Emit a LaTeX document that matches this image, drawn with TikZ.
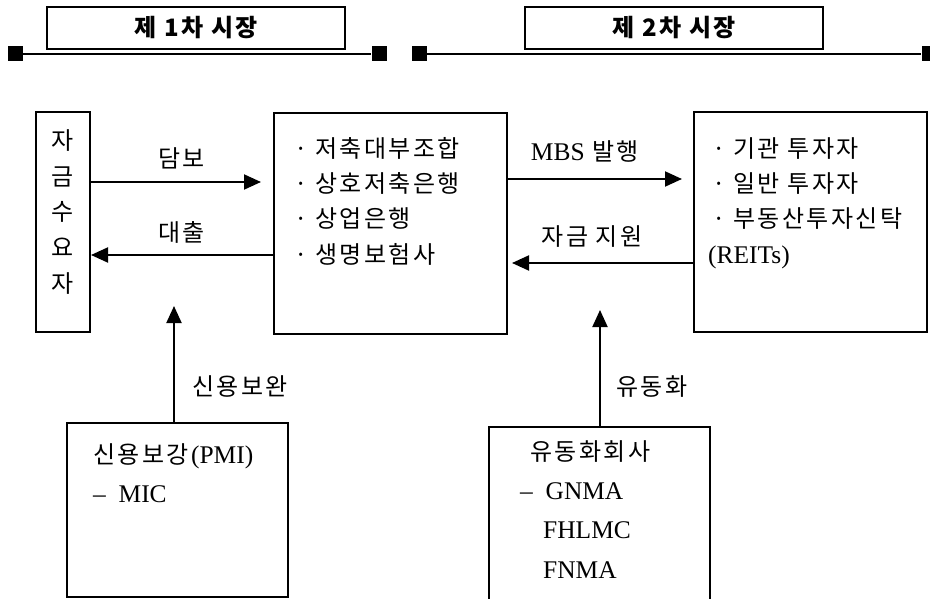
\documentclass[tikz,border=0pt]{standalone}
\usepackage{fontspec}
\setmainfont[Scale=1.06]{Liberation Serif}
\newfontfamily\kr[LetterSpace=10]{Noto Sans CJK KR}
\usetikzlibrary{arrows.meta,positioning}

\begin{document}
\begin{tikzpicture}[x=1pt, y=-1pt,
  box/.style={rectangle, draw, line width=2pt, inner sep=0pt},
  titlebox/.style={box, line width=1.8pt, minimum width=298pt, minimum height=42pt, font=\kr\bfseries\fontsize{24}{26}\selectfont},
  endsq/.style={rectangle, fill=black, minimum size=15pt, inner sep=0pt},
  rail/.style={line width=1.8pt},
  arrow/.style={-{Triangle[length=17pt,width=15pt]}, line width=2pt},
  lbl/.style={font=\kr\fontsize{24}{26}\selectfont, inner sep=0pt, text height=18pt, text depth=0pt},
  ln/.style={lbl, anchor=west}
]
\useasboundingbox (0,0) rectangle (930,599);
\node[titlebox] (first) at (196,28) {제 1차 시장};
\node[titlebox] (second) at (674,28) {제 2차 시장};
\node[endsq] (sqa) at (15,54) {};
\node[endsq] (sqb) at (379,54) {};
\node[endsq] (sqc) at (419,54) {};
\node[endsq] (sqd) at (929,54) {};
\draw[rail] (sqa) -- (sqb);
\draw[rail] (sqc) -- (sqd);
\node[box, minimum width=54pt, minimum height=220pt] (demand) at (63,222) {};
\node[box, minimum width=233pt, minimum height=221pt] (lender) at (390.5,223.5) {};
\node[box, minimum width=233pt, minimum height=220pt] (investor) at (810.5,222) {};
\node[box, minimum width=221pt, minimum height=174pt] (insurer) at (177.5,510) {};
\node[box, minimum width=221pt, minimum height=186pt] (agency) at (599.5,520) {};
\node[lbl] (d1) at (63,141) {자};
\node[lbl] (d2) at (63,176.5) {금};
\node[lbl] (d3) at (63,212) {수};
\node[lbl] (d4) at (63,247.5) {요};
\node[lbl] (d5) at (63,283) {자};
\node[ln] (l1) at (294,149) {· 저축대부조합};
\node[ln] (l2) at (294,184) {· 상호저축은행};
\node[ln] (l3) at (294,219) {· 상업은행};
\node[ln] (l4) at (294,254) {· 생명보험사};
\node[ln] (i1) at (712,149) {· 기관 투자자};
\node[ln] (i2) at (712,184) {· 일반 투자자};
\node[ln] (i3) at (712,219) {· 부동산투자신탁};
\node[ln] (i4) at (708,254) {\textrm{(REITs)}};
\node[ln] (p1) at (93,454) {신용보강\textrm{(PMI)}};
\node[ln] (p2) at (93,493) {\textrm{--\ \ MIC}};
\node[ln] (g1) at (530,451) {유동화회사};
\node[ln] (g2) at (520,490) {\textrm{--\ \ GNMA}};
\node[ln] (g3) at (543,529) {\textrm{FHLMC}};
\node[ln] (g4) at (543,569) {\textrm{FNMA}};
\coordinate (up1) at (174,306);
\coordinate (up2) at (600,310);
\draw[arrow, shorten >=12pt] (demand.east |- 0,182) -- (lender.west |- 0,182);
\draw[arrow] (lender.west |- 0,255) -- (demand.east |- 0,255);
\draw[arrow, shorten >=11pt] (lender.east |- 0,179) -- (investor.west |- 0,179);
\draw[arrow, shorten >=4pt] (investor.west |- 0,263) -- (lender.east |- 0,263);
\draw[arrow] (insurer.north -| up1) -- (up1);
\draw[arrow] (agency.north -| up2) -- (up2);
\node[lbl] (collat) at (181.5,159) {담보};
\node[lbl] (loan) at (181.5,233) {대출};
\node[lbl] (issue) at (585,152) {\textrm{MBS} 발행};
\node[lbl] (fund) at (592,237) {자금 지원};
\node[lbl] (credit) at (240,386) {신용보완};
\node[lbl] (liquid) at (652,386) {유동화};
\end{tikzpicture}
\end{document}
